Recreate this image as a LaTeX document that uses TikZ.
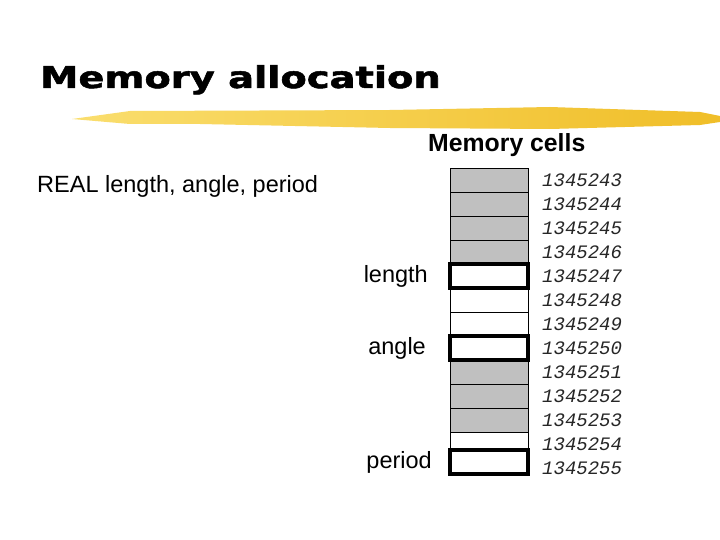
\documentclass[tikz,border=0pt]{standalone}
\usepackage{fontspec}
\setmainfont{Liberation Sans}
\setmonofont{Liberation Mono}
\newfontfamily\titlefont{DejaVu Sans Bold}[FakeBold=1.6]
\usetikzlibrary{positioning}
\definecolor{cellgrey}{RGB}{192,192,192}
\definecolor{brushgold}{RGB}{240,190,40}
\definecolor{brushlight}{RGB}{250,222,110}

\begin{document}
\begin{tikzpicture}[x=1pt, y=-1pt, node distance=0pt,
  cell/.style = {draw, line width=0.8pt, minimum width=78pt, minimum height=24pt, inner sep=0pt, outer sep=0pt},
  used/.style = {cell, fill=cellgrey},
  free/.style = {cell},
  var/.style = {draw, line width=3.3pt},
  addr/.style = {anchor=west, inner sep=0pt, text=black!85, font=\fontsize{19}{19}\selectfont\ttfamily\itshape},
  varlabel/.style = {inner sep=0pt, font=\fontsize{23.5}{24}\selectfont}]
\fill[white] (0,0) rectangle (720,540);
\useasboundingbox (0,0) rectangle (720,540);
% title and brush stroke
\shade[left color=brushlight, right color=brushgold]
  (72,119) -- (130,111) -- (390,110) -- (550,107) -- (700,112) -- (720,116)
  -- (720,122) -- (700,125) -- (550,129) -- (390,128) -- (200,124) -- (130,124) -- cycle;
\node[anchor=base west, inner sep=0pt, font=\titlefont\fontsize{30}{32}\selectfont] (title) at (40,88) {\scalebox{1.28}[1]{Memory allocation}};
\node[anchor=base west, inner sep=0pt, font=\bfseries\fontsize{24.8}{26}\selectfont] (cells) at (428,152) {Memory cells};
\node[anchor=base west, varlabel] (decl) at (37,193) {REAL length, angle, period};
% memory cells
\node[used] (c1) at (489,180) {};
\node[used] (c2) [below=of c1] {};
\node[used] (c3) [below=of c2] {};
\node[used] (c4) [below=of c3] {};
\node[free] (c5) [below=of c4] {};
\node[free] (c6) [below=of c5] {};
\node[free] (c7) [below=of c6] {};
\node[free] (c8) [below=of c7] {};
\node[used] (c9) [below=of c8] {};
\node[used] (c10) [below=of c9] {};
\node[used] (c11) [below=of c10] {};
\node[free, minimum height=18pt] (c12) [below=of c11] {};
\node[free] (c13) [below=of c12] {};
\foreach \c in {c5,c8,c13}
  \draw[var] (\c.north west) rectangle (\c.south east);
% variable names
\node[varlabel] (length) [left=22pt of c5] {length};
\node[varlabel] (angle) [left=24pt of c8] {angle};
\node[varlabel] (period) [left=18pt of c13] {period};
% addresses
\foreach \i in {43,...,55}
  \node[addr] (a\i) at (542,{180+24*(\i-43)}) {13452\i};
\end{tikzpicture}
\end{document}
